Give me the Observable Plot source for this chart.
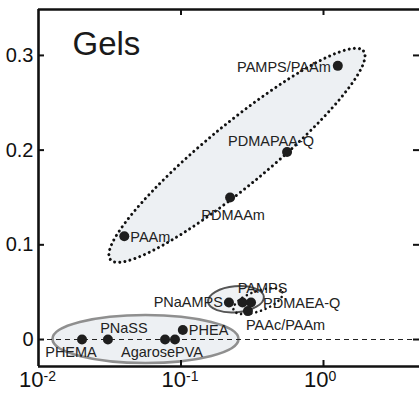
<!DOCTYPE html>
<html><head><meta charset="utf-8">
<script src="https://cdn.jsdelivr.net/npm/d3@7"></script>
<script src="https://cdn.jsdelivr.net/npm/@observablehq/plot@0.6"></script>
<style>body{margin:0;background:#fff} svg{display:block}</style>
</head><body><div id="chart"></div>
<script>
// ---- data ----
const names   = ["PAMPS/PAAm","PDMAPAA-Q","PDMAAm","PAAm","PNaAMPS","PAMPS","PDMAEA-Q","PAAc/PAAm","PNaSS","PHEMA","Agarose","PVA","PHEA"];
const xValues = [1.26, 0.555, 0.221, 0.040, 0.217, 0.27, 0.31, 0.295, 0.0307, 0.0202, 0.0773, 0.0907, 0.103];
const yValues = [0.289, 0.198, 0.150, 0.109, 0.039, 0.039, 0.039, 0.030, 0, 0, 0, 0, 0.010];
const xTickValues = [0.01, 0.1, 1];
const xTickExponents = ["-2", "-1", "0"];
const yTickValues = [0, 0.1, 0.2, 0.3];
const yTickLabels = ["0", "0.1", "0.2", "0.3"];
const title = "Gels";

// ---- layout / style (not data) ----
const labelPlacement = {
  "PAMPS/PAAm": {a:"end",    dx:-7,  dy:2},
  "PDMAPAA-Q":  {a:"middle", dx:-16, dy:-11},
  "PDMAAm":     {a:"middle", dx:3,   dy:18},
  "PAAm":       {a:"start",  dx:6,   dy:1},
  "PNaAMPS":    {a:"end",    dx:-6,  dy:0},
  "PAMPS":      {a:"middle", dx:20,  dy:-14},
  "PDMAEA-Q":   {a:"start",  dx:12,  dy:1},
  "PAAc/PAAm":  {a:"start",  dx:-2,  dy:14},
  "PNaSS":      {a:"middle", dx:16,  dy:-11},
  "PHEMA":      {a:"middle", dx:-11, dy:13},
  "Agarose":    {a:"middle", dx:-17, dy:13},
  "PVA":        {a:"start",  dx:0,   dy:13},
  "PHEA":       {a:"start",  dx:6,   dy:0}
};
const ellipses = [
  {cx:0.249,  cy:0.194, rx:164, ry:31, angle:-39.5, fill:"#edf0f3", stroke:"#111", dash:"0 5.2", width:3},
  {cx:0.0568, cy:0,     rx:93,  ry:24, angle:0,     fill:"#edf0f3", stroke:"#8f8f8f", dash:null, width:2.6},
  {cx:0.245,  cy:0.042, rx:28,  ry:13, angle:-5,    fill:"#f0f2f4", stroke:"#555", dash:null, width:2},
  {cx:0.35,   cy:0.040, rx:26,  ry:10, angle:-20,   fill:"none",    stroke:"#111", dash:"0 5", width:2.6}
];
const font = "'Liberation Sans', Arial, Helvetica, sans-serif";
const W = 419, H = 399, mL = 38, mR = 0, mT = 9, mB = 33;
const xDomain = [0.01, 5];
const yDomain = [-0.0285, 0.3485];
const decade = 142.5;
const frameW = W - mL - mR, frameH = H - mT - mB, tick = 6;

const points = names.map((n, i) => ({name: n, x: xValues[i], y: yValues[i]}));

function ellipseMark(list) {
  return (index, scales) => {
    const g = d3.create("svg:g");
    for (const e of list) {
      const cx = scales.x(e.cx), cy = scales.y(e.cy);
      const el = g.append("ellipse")
        .attr("cx", cx).attr("cy", cy).attr("rx", e.rx).attr("ry", e.ry)
        .attr("transform", `rotate(${e.angle} ${cx} ${cy})`)
        .attr("fill", e.fill).attr("stroke", e.stroke).attr("stroke-width", e.width)
        .attr("stroke-linecap", "round");
      if (e.dash) el.attr("stroke-dasharray", e.dash);
    }
    return g.node();
  };
}

const labelMarks = points.map(p => {
  const L = labelPlacement[p.name];
  return Plot.text([p], {x: "x", y: "y", text: "name", textAnchor: L.a, dx: L.dx, dy: L.dy,
    fontSize: 14.5, fill: "#222", fontFamily: font});
});

const plot = Plot.plot({
  width: W, height: H,
  marginLeft: mL, marginRight: mR, marginTop: mT, marginBottom: mB,
  style: {fontFamily: font, background: "#fff", overflow: "visible"},
  x: {type: "log", domain: xDomain, range: [mL, mL + decade * Math.log10(xDomain[1] / xDomain[0])], axis: null},
  y: {domain: yDomain, axis: null},
  marks: [
    ellipseMark(ellipses.slice(0, 3)),
    Plot.ruleY([0], {stroke: "#222", strokeWidth: 1.2, strokeDasharray: "5,4"}),
    ellipseMark(ellipses.slice(3)),
    Plot.dot(points, {x: "x", y: "y", r: 5, fill: "#1e1e1e", stroke: "none"}),
    ...labelMarks,
    // frame
    Plot.ruleX([xDomain[0]], {stroke: "#111", strokeWidth: 2.6}),
    Plot.ruleY([yDomain[0]], {stroke: "#111", strokeWidth: 2.6}),
    Plot.ruleY([yDomain[1]], {stroke: "#111", strokeWidth: 2.6}),
    // ticks (inward)
    Plot.tickX(xTickValues.slice(1), {x: d => d, insetTop: frameH - tick, stroke: "#111", strokeWidth: 2}),
    Plot.tickX(xTickValues.slice(1), {x: d => d, insetBottom: frameH - tick, stroke: "#111", strokeWidth: 2}),
    Plot.tickY(yTickValues, {y: d => d, insetRight: frameW - tick, stroke: "#111", strokeWidth: 2}),
    Plot.tickY(yTickValues, {y: d => d, insetLeft: frameW - tick, stroke: "#111", strokeWidth: 2}),
    // tick labels
    Plot.text(xTickValues, {x: d => d, text: () => "10", frameAnchor: "bottom", textAnchor: "end",
      dx: 5, dy: 20, fontSize: 22, fill: "#111", fontFamily: font}),
    Plot.text(xTickValues, {x: d => d, text: (d, i) => xTickExponents[i], frameAnchor: "bottom", textAnchor: "start",
      dx: 5, dy: 14, fontSize: 14, fill: "#111", fontFamily: font}),
    Plot.text(yTickValues, {y: d => d, text: (d, i) => yTickLabels[i], frameAnchor: "left", textAnchor: "end",
      dx: -5, fontSize: 20, fill: "#111", fontFamily: font}),
    Plot.text([title], {text: d => d, frameAnchor: "top-left", textAnchor: "start", lineAnchor: "top",
      dx: 34, dy: 22, fontSize: 33, fill: "#1a1a1a", fontFamily: font})
  ]
});
document.getElementById("chart").appendChild(plot);
</script>
</body></html>
